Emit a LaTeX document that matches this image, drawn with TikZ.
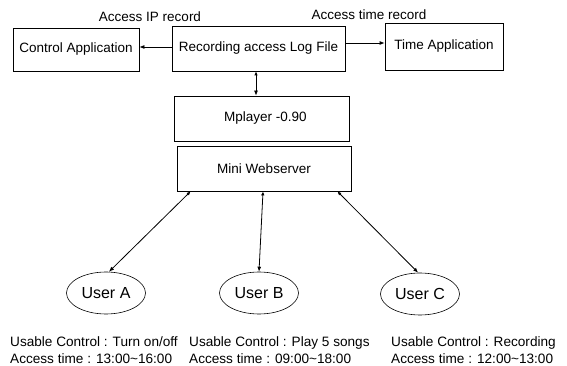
\documentclass[tikz,border=0pt]{standalone}
\usepackage{fontspec}
\setmainfont{Liberation Sans}
\usetikzlibrary{arrows.meta,shapes.geometric}

\tikzset{
  box/.style={draw, line width=0.8pt, inner sep=0pt, font=\fontsize{13.5}{16}\selectfont},
  user/.style={draw, ellipse, line width=0.6pt, inner sep=0pt,
    minimum width=79pt, minimum height=42pt, font=\fontsize{16}{19}\selectfont},
  lbl/.style={inner sep=0pt, font=\fontsize{13.5}{16}\selectfont},
  info/.style={inner sep=0pt, align=left, anchor=base west,
    font=\fontsize{13.6}{17}\selectfont},
  link/.style={line width=0.8pt, -{Latex[length=5pt,width=4pt]}},
  both/.style={line width=0.8pt, {Latex[length=4pt,width=3.5pt]}-{Latex[length=5pt,width=4pt]}}
}

\begin{document}
\begin{tikzpicture}[x=1pt, y=-1pt]
\useasboundingbox (0,0) rectangle (567,366);

% application boxes on top
\node[box, minimum width=126pt, minimum height=43pt] (ctrl) at (76,49.5) {Control Application};
\node[box, minimum width=173pt, minimum height=45pt] (rec) at (258.5,48.5) {Recording access Log File};
\node[box, minimum width=118pt, minimum height=47pt] (time) at (444,46.5) {Time Application};

\node[lbl] (iplbl) at (150,17) {Access IP record};
\node[lbl] (tmlbl) at (369,15) {Access time record};

% player and server stack
\node[box, minimum width=175pt, minimum height=45pt] (mp) at (261.5,118.5) {\hspace*{8pt}Mplayer -0.90};
\node[box, minimum width=174pt, minimum height=45pt] (web) at (264,168.5) {Mini Webserver};

% users
\node[user] (ua) at (106,293) {User A};
\node[user] (ub) at (259,293) {User B};
\node[user] (uc) at (420,294) {User C};

% access rights of each user (anchor is the baseline of the last line)
\node[info] (ia) at (10,363) {Usable Control : Turn on/off\\Access time : 13:00\textasciitilde 16:00};
\node[info] (ib) at (189,363) {Usable Control : Play 5 songs\\Access time : 09:00\textasciitilde 18:00};
\node[info] (ic) at (391,363) {Usable Control : Recording\\Access time : 12:00\textasciitilde 13:00};

% connectors
\draw[link] ([yshift=1.5pt]rec.west) -- ([yshift=1.5pt]rec.west -| ctrl.east);
\draw[link] ([yshift=5.5pt]rec.east) -- ([yshift=5.5pt]rec.east -| time.west);
\draw[both] ([xshift=-2.5pt]rec.south) -- ([xshift=-2.5pt]rec.south |- mp.north);

\coordinate (wa) at ([xshift=14pt]web.south west);
\coordinate (wb) at ([xshift=-1pt]web.south);
\coordinate (wc) at ([xshift=-14pt]web.south east);
\draw[both] (wa) -- (ua.82);
\draw[both] (wb) -- (ub.north);
\draw[both] (wc) -- (uc.95);
\end{tikzpicture}
\end{document}
